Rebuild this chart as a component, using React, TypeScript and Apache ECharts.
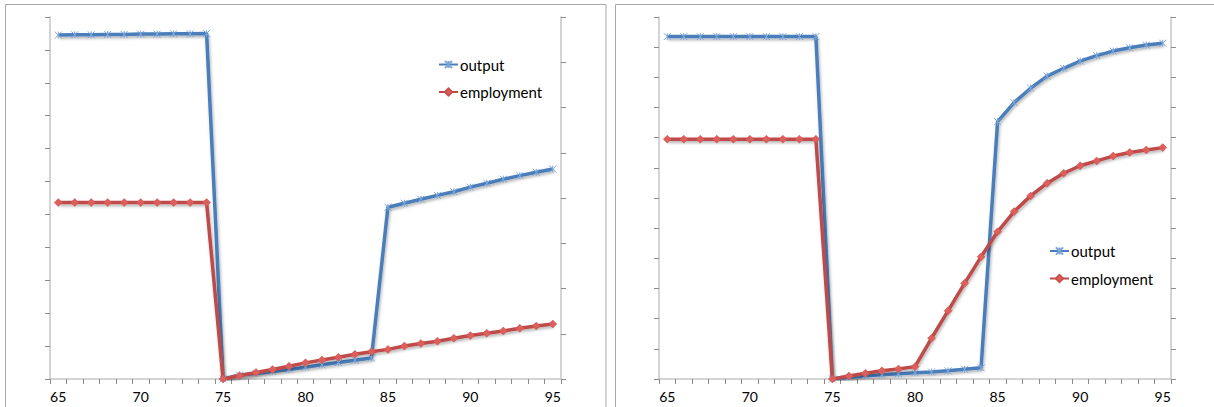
import React, { useEffect, useRef } from "react";
import * as echarts from "echarts";

const years = ["65","66","67","68","69","70","71","72","73","74","75","76","77","78","79","80","81","82","83","84","85","86","87","88","89","90","91","92","93","94","95"];

const leftOutput = [104.5,104.6,104.6,104.7,104.7,104.8,104.8,104.9,104.9,105.0,0,1.2,1.7,2.3,2.9,3.6,4.3,5.0,5.7,6.4,52.2,53.4,54.6,55.8,56.9,58.3,59.5,60.7,61.8,62.8,63.8];
const leftEmployment = [53.6,53.6,53.6,53.6,53.6,53.6,53.6,53.6,53.6,53.6,0,1.0,2.0,2.9,3.9,4.9,5.8,6.6,7.5,8.3,9.0,10.0,10.8,11.5,12.4,13.2,13.9,14.6,15.4,16.1,16.7];
const rightOutput = [113.5,113.5,113.5,113.5,113.5,113.5,113.5,113.5,113.5,113.5,0,0.6,1.1,1.4,1.7,2.1,2.3,2.7,3.2,3.7,85.3,91.6,96.4,100.4,103.0,105.4,107.2,108.7,109.8,110.7,111.3];
const rightEmployment = [79.5,79.5,79.5,79.5,79.5,79.5,79.5,79.5,79.5,79.5,0,1.0,1.9,2.7,3.3,4.1,13.5,22.6,31.7,40.5,48.8,55.5,60.7,64.9,68.2,70.7,72.3,73.9,75.1,75.9,76.7];

const seriesNames = ["output", "employment"];

const BLUE = "#4a7ebb";
const RED = "#be4b48";
const STAR = "path://M0,0L10,10M10,0L0,10M5,0L5,10";
const FONT = "Lato";

export default function App() {
  const ref = useRef<HTMLDivElement>(null);
  useEffect(() => {
    if (!ref.current) return;
    const chart = echarts.init(ref.current, null, { renderer: "svg" });

    const axisLineStyle = { color: "#c6c6c6", width: 1.5 };
    const tickStyle = { color: "#8c8c8c", width: 1 };

    const xAxis = (gridIndex: number) => ({
      type: "category",
      gridIndex,
      data: years,
      boundaryGap: true,
      axisLine: { show: true, lineStyle: axisLineStyle },
      axisTick: { show: true, interval: 0, length: 5, lineStyle: tickStyle },
      axisLabel: { interval: 4, color: "#000", fontSize: 14, fontFamily: FONT, margin: 10 },
      splitLine: { show: false },
    });
    const yAxis = (gridIndex: number, position: string, max: number, interval: number) => ({
      type: "value",
      gridIndex,
      position,
      min: 0,
      max,
      interval,
      axisLine: { show: true, lineStyle: axisLineStyle },
      axisTick: { show: true, length: 5, lineStyle: tickStyle },
      axisLabel: { show: false },
      splitLine: { show: false },
    });

    const mk = (name: string, data: number[], xi: number, yi: number) => {
      const isOut = name === "output";
      return {
        name,
        type: "line",
        xAxisIndex: xi,
        yAxisIndex: yi,
        data,
        symbol: isOut ? STAR : "diamond",
        symbolSize: isOut ? 7 : 8,
        showAllSymbol: true,
        itemStyle: isOut
          ? { color: BLUE, borderColor: "#7ea6d8", borderWidth: 1 }
          : { color: "#dc5f5c", borderColor: "#c9504d", borderWidth: 0.5 },
        lineStyle: {
          color: isOut ? BLUE : RED,
          width: 3.5,
          shadowColor: "rgba(0,0,0,0.3)",
          shadowBlur: 3,
          shadowOffsetX: 1,
          shadowOffsetY: 2,
        },
        emphasis: { disabled: true },
      };
    };

    const legend = (left: number, top: number) => ({
      orient: "vertical",
      left,
      top,
      padding: 0,
      data: seriesNames,
      itemWidth: 19,
      itemHeight: 9,
      itemGap: 12.5,
      textStyle: { color: "#000", fontSize: 15, fontFamily: FONT, padding: [0, 0, 0, -3] },
      selectedMode: false,
    });

    chart.setOption({
      animation: false,
      backgroundColor: "#fff",
      grid: [
        { left: 50, right: 653, top: 17, bottom: 28 },
        { left: 659, right: 43, top: 17, bottom: 28 },
      ],
      xAxis: [xAxis(0), xAxis(1)],
      yAxis: [
        yAxis(0, "left", 110, 10),
        yAxis(0, "right", 8, 1),
        yAxis(1, "left", 120, 10),
        yAxis(1, "right", 12, 1),
      ],
      legend: [legend(438, 57), legend(1049, 243.5)],
      series: [
        mk("output", leftOutput, 0, 0),
        mk("employment", leftEmployment, 0, 0),
        mk("output", rightOutput, 1, 2),
        mk("employment", rightEmployment, 1, 2),
      ],
      graphic: [
        {
          type: "rect",
          z: -10,
          silent: true,
          shape: { x: 5.5, y: 4.5, width: 600.5, height: 430 },
          style: { fill: "none", stroke: "#a8a8a8", lineWidth: 1 },
        },
        {
          type: "rect",
          z: -10,
          silent: true,
          shape: { x: 615.5, y: 4.5, width: 700, height: 430 },
          style: { fill: "none", stroke: "#a8a8a8", lineWidth: 1 },
        },
      ],
    });
    return () => chart.dispose();
  }, []);
  return (
    <div
      ref={ref}
      style={{ position: "fixed", left: 0, top: 0, width: 1214, height: 407 }}
    />
  );
}
